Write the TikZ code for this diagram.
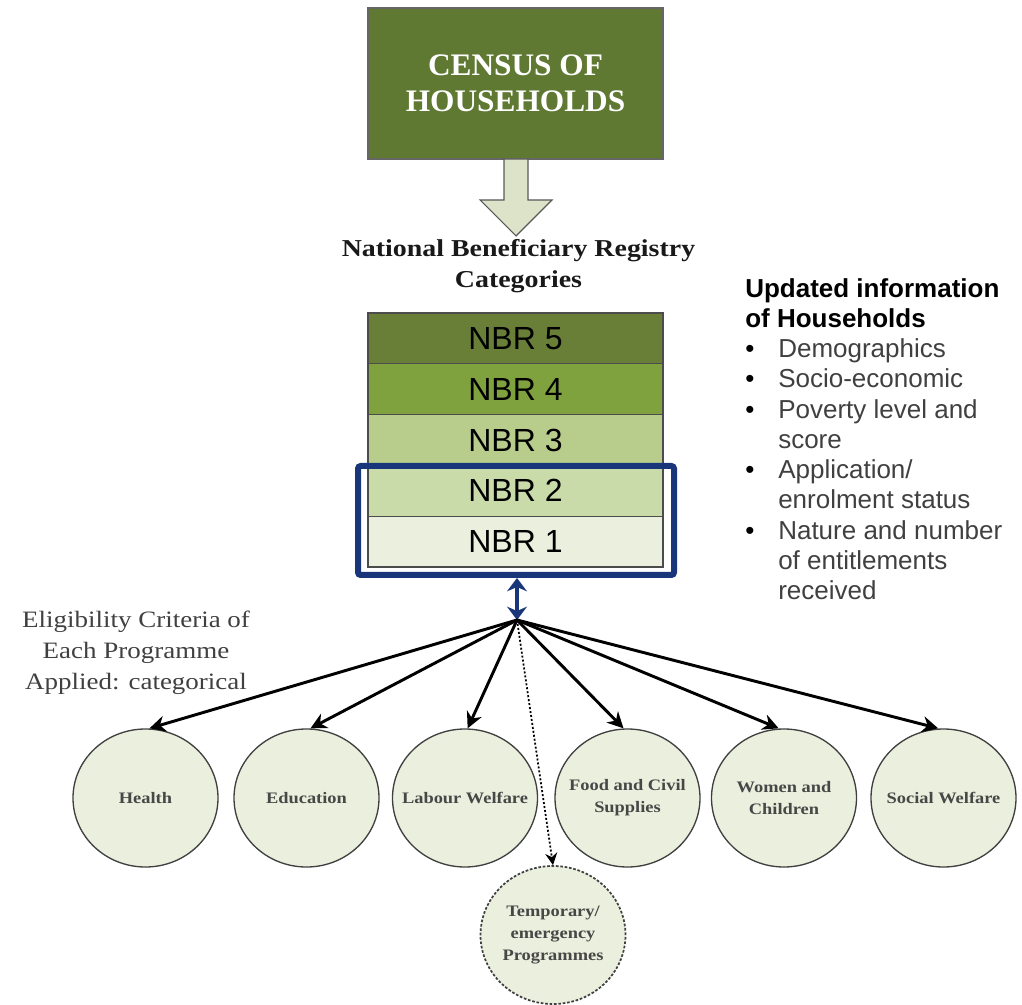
\documentclass[tikz,border=0pt]{standalone}
\usepackage{fontspec}
\setmainfont{Liberation Serif}
\newfontfamily\camfont[FakeStretch=1.15]{Liberation Serif}
\newfontfamily\arialfont{Liberation Sans}
\usetikzlibrary{arrows.meta,shapes.geometric}
\definecolor{censusgreen}{RGB}{95,121,51}
\definecolor{arrowfill}{RGB}{221,227,200}
\definecolor{nbrfive}{RGB}{105,127,56}
\definecolor{nbrfour}{RGB}{127,162,63}
\definecolor{nbrthree}{RGB}{184,205,140}
\definecolor{nbrtwo}{RGB}{201,219,168}
\definecolor{nbrone}{RGB}{235,240,222}
\definecolor{circfill}{RGB}{235,239,221}
\definecolor{navyblue}{RGB}{26,54,122}
\definecolor{txtgray}{RGB}{64,64,64}
\newcommand{\blt}{\makebox[24.75pt][l]{\textcolor{black}{\textbullet}}}
\begin{document}
\begin{tikzpicture}[x=0.75pt,y=-0.75pt,
  nbrrow/.style={draw=black!70, line width=0.8pt, minimum width=221.25pt, minimum height=38.1pt, inner sep=0pt,
    font=\arialfont\fontsize{24}{28}\selectfont, text=black},
  prog/.style={ellipse, draw=black!75, line width=1pt, fill=circfill, minimum width=108.75pt, minimum height=103.5pt, inner sep=0pt},
  proglabel/.style={align=center, inner sep=0pt, font=\camfont\bfseries\fontsize{12}{16.5}\selectfont, text=black!72},
  conn/.style={line width=2.2pt, -{Stealth[length=12pt,width=12pt]}},
]
\path[use as bounding box] (0,0) rectangle (1022,1005);

% census box
\node[draw=black!60, line width=0.8pt, fill=censusgreen, minimum width=221.25pt, minimum height=113.25pt,
  align=center, text=white, font=\bfseries\fontsize{23.5}{27}\selectfont] (census) at (515.5,83.5) {CENSUS OF\\HOUSEHOLDS};

% block arrow
\draw[draw=black!65, line width=0.8pt, fill=arrowfill]
  (504,159) -- (528,159) -- (528,200) -- (552,200) -- (516,236) -- (480,200) -- (504,200) -- cycle;

\node[align=center, inner sep=0pt, font=\camfont\bfseries\fontsize{18.2}{23}\selectfont, text=black!90] (nbrtitle) at (518.5,266)
  {National Beneficiary Registry\\Categories};

% NBR stack
\node[nbrrow, fill=nbrfive] (nbr5) at (515.5,338.4) {NBR 5};
\node[nbrrow, fill=nbrfour] (nbr4) at (515.5,389.2) {NBR 4};
\node[nbrrow, fill=nbrthree] (nbr3) at (515.5,440) {NBR 3};
\node[nbrrow, fill=nbrtwo] (nbr2) at (515.5,490.8) {NBR 2};
\node[nbrrow, fill=nbrone] (nbr1) at (515.5,541.6) {NBR 1};

% selection box
\node[draw=navyblue, line width=4.5pt, rounded corners=2pt, minimum width=237pt, minimum height=81.75pt, inner sep=0pt] (nbrsel) at (516,520.5) {};

\coordinate (hub) at (517,620);
\draw[navyblue, line width=3pt, {Stealth[length=10pt,width=15pt]}-{Stealth[length=10pt,width=15pt]}] (nbrsel.south -| hub) -- (hub);

% right info text
\node[anchor=north west, align=left, inner sep=0pt, font=\arialfont\fontsize{19.5}{22.7}\selectfont, text=txtgray] (info) at (745,278)
  {\textcolor{black}{\textbf{Updated information}}\\
   \textcolor{black}{\textbf{of Households}}\\
   \blt Demographics\\
   \blt Socio-economic\\
   \blt Poverty level and\\
   \hspace*{24.75pt}score\\
   \blt Application/\\
   \hspace*{24.75pt}enrolment status\\
   \blt Nature and number\\
   \hspace*{24.75pt}of entitlements\\
   \hspace*{24.75pt}received};

% eligibility text
\node[align=center, inner sep=0pt, font=\camfont\fontsize{17.6}{23.25}\selectfont, text=txtgray] (elig) at (136,653)
  {Eligibility Criteria of\\Each Programme\\Applied: categorical};

% programme circles
\node[prog, label={[proglabel]center:Health}] (health) at (145.5,798) {};
\node[prog, label={[proglabel]center:Education}] (educ) at (306.5,798) {};
\node[prog, label={[proglabel]center:Labour Welfare}] (labour) at (465,798) {};
\node[prog, label={[proglabel]center:Food and Civil\\Supplies}] (food) at (627.5,798) {};
\node[prog, label={[proglabel]center:Women and\\Children}] (women) at (784,798) {};
\node[prog, label={[proglabel]center:Social Welfare}] (social) at (943.5,798) {};
\node[prog, draw=black!75, dash pattern=on 2pt off 1.3pt, line width=1.3pt, label={[proglabel]center:Temporary/\\emergency\\Programmes}] (temp) at (553,935) {};

% connectors
\draw[conn] (hub) -- ([xshift=3pt]health.north);
\draw[conn] (hub) -- ([xshift=3pt]educ.north);
\draw[conn] (hub) -- ([xshift=2pt]labour.north);
\draw[conn] (hub) -- ([xshift=-3pt]food.north);
\draw[conn] (hub) -- ([xshift=-4pt]women.north);
\draw[conn] (hub) -- ([xshift=-4pt]social.north);
\draw[line width=1.3pt, dash pattern=on 1.5pt off 1.5pt, -{Stealth[length=9pt,width=9pt]}] (hub) -- (temp.north);
\end{tikzpicture}
\end{document}
